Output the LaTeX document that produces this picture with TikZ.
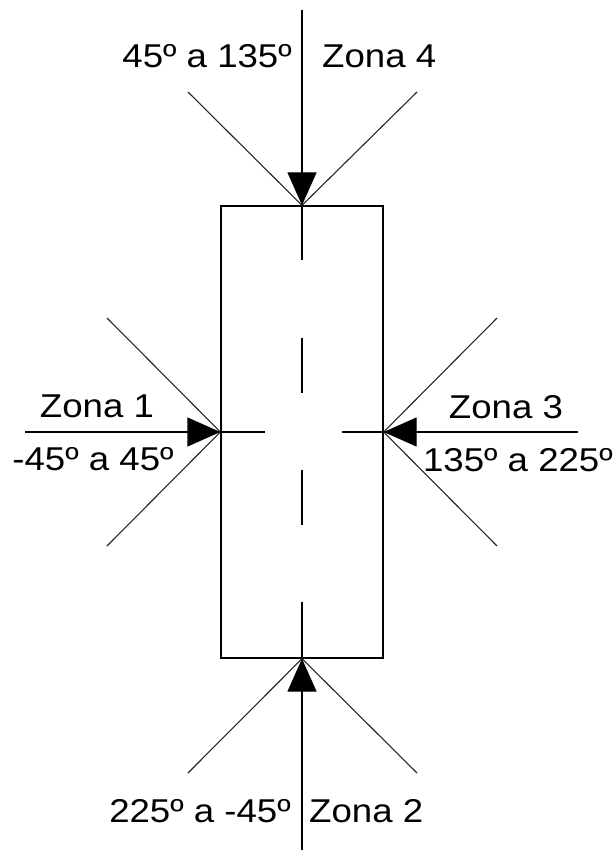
\documentclass[tikz,border=0pt]{standalone}
\usepackage{fontspec}
\setmainfont{Liberation Sans}
\usetikzlibrary{arrows.meta}
\newcommand{\lbl}[1]{\scalebox{1.11}[1]{#1}}
\begin{document}
\begin{tikzpicture}[x=1pt,y=-1pt,
  ln/.style={line width=1.3pt,black},
  diag/.style={line width=1.1pt,black!85},
  arr/.style={ln,-{Triangle[length=33pt,width=29pt]}},
  txt/.style={inner sep=0pt,font=\fontsize{33}{39}\selectfont},
  boxs/.style={draw,line width=1.3pt,minimum width=162pt,minimum height=452pt,inner sep=0pt}]
\useasboundingbox (0,0) rectangle (615,850);
\node[boxs] (box) at (302,432) {};
% free ends
\coordinate (tv) at (302,10);
\coordinate (bv) at (302,850);
\coordinate (lh) at (25,432);
\coordinate (rh) at (578,432);
\coordinate (lin) at (265,432);
\coordinate (rin) at (342,432);
\coordinate (tl) at (188,92);
\coordinate (tr) at (417,92);
\coordinate (bl) at (188,773);
\coordinate (br) at (417,773);
\coordinate (ltl) at (107,318);
\coordinate (lbl) at (107,546);
\coordinate (rtr) at (497,318);
\coordinate (rbr) at (497,546);
% centre line
\draw[ln,dash pattern=on 55pt off 77.3pt] (box.north) -- (box.south);
% diagonals
\draw[diag] (tl) -- (box.north) -- (tr);
\draw[diag] (bl) -- (box.south) -- (br);
\draw[diag] (ltl) -- (box.west) -- (lbl);
\draw[diag] (rtr) -- (box.east) -- (rbr);
% arrows
\draw[arr] (tv) -- (box.north);
\draw[arr] (bv) -- (box.south);
\draw[arr] (lh) -- (box.west);
\draw[arr] (rh) -- (box.east);
\draw[ln] (box.west) -- (lin);
\draw[ln] (box.east) -- (rin);
% labels
\node[txt,anchor=base east] (t1) at (292,68) {\lbl{45º a 135º}};
\node[txt,anchor=base west] (t2) at (322,68) {\lbl{Zona 4}};
\node[txt,anchor=base] (l1) at (97,417) {\lbl{Zona 1}};
\node[txt,anchor=base] (l2) at (93,470) {\lbl{-45º a 45º}};
\node[txt,anchor=base] (r1) at (506,418) {\lbl{Zona 3}};
\node[txt,anchor=base east] (r2) at (613,471) {\lbl{135º a 225º}};
\node[txt,anchor=base east] (b1) at (291,822) {\lbl{225º a -45º}};
\node[txt,anchor=base west] (b2) at (309,822) {\lbl{Zona 2}};
\end{tikzpicture}
\end{document}
